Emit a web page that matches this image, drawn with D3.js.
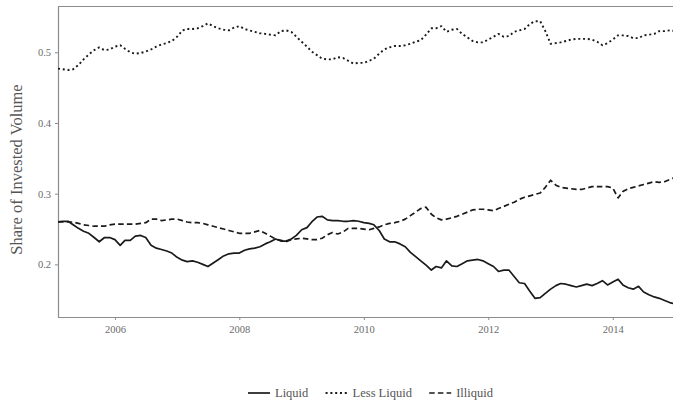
<!DOCTYPE html>
<html>
<head>
<meta charset="utf-8">
<script src="https://cdn.jsdelivr.net/npm/d3@7/dist/d3.min.js"></script>
<style>
  html, body { margin: 0; padding: 0; background: #fff; }
  svg { display: block; }
  text { font-family: "Liberation Serif", "DejaVu Serif", serif; }
</style>
</head>
<body>
<svg id="chart" width="673" height="404"></svg>
<script>
// Monthly observations, Feb 2005 – Jan 2015
const startYear = 2005, startMonth = 1; // Feb 2005 (0-based month)

const liquid = [
  0.260,0.261,0.261,0.256,0.251,0.247,0.244,0.238,0.232,0.238,0.238,
  0.235,0.227,0.234,0.234,0.240,0.241,0.238,0.227,0.223,0.221,0.219,0.216,
  0.210,0.206,0.204,0.205,0.203,0.200,0.197,0.202,0.207,0.212,0.215,0.216,
  0.216,0.220,0.222,0.223,0.225,0.229,0.232,0.236,0.233,0.233,0.236,0.241,
  0.249,0.252,0.260,0.267,0.268,0.263,0.262,0.262,0.261,0.261,0.262,0.261,
  0.259,0.258,0.256,0.248,0.236,0.232,0.232,0.229,0.225,0.217,0.211,0.205,
  0.199,0.192,0.197,0.195,0.205,0.198,0.197,0.201,0.205,0.206,0.207,0.205,
  0.201,0.197,0.190,0.192,0.192,0.183,0.174,0.173,0.162,0.152,0.153,0.159,
  0.165,0.170,0.173,0.172,0.170,0.168,0.170,0.172,0.170,0.173,0.177,0.171,
  0.175,0.179,0.171,0.167,0.165,0.169,0.161,0.157,0.154,0.152,0.149,0.146,
  0.144
];

const lessLiquid = [
  0.477,0.476,0.475,0.476,0.482,0.490,0.497,0.503,0.507,0.503,0.504,
  0.508,0.510,0.505,0.500,0.498,0.499,0.501,0.504,0.508,0.511,0.513,0.516,
  0.522,0.531,0.533,0.533,0.534,0.537,0.541,0.537,0.534,0.532,0.531,0.535,
  0.537,0.533,0.531,0.529,0.527,0.526,0.525,0.524,0.530,0.531,0.529,0.522,
  0.515,0.508,0.501,0.496,0.491,0.490,0.490,0.493,0.492,0.488,0.484,0.485,
  0.485,0.488,0.491,0.498,0.504,0.507,0.509,0.509,0.510,0.512,0.515,0.517,
  0.525,0.534,0.534,0.537,0.529,0.532,0.533,0.526,0.521,0.516,0.514,0.514,
  0.518,0.522,0.526,0.522,0.523,0.529,0.531,0.533,0.540,0.544,0.544,0.530,
  0.512,0.513,0.514,0.516,0.518,0.519,0.519,0.519,0.518,0.515,0.510,0.513,
  0.518,0.524,0.524,0.523,0.520,0.520,0.524,0.525,0.526,0.530,0.530,0.531,
  0.530
];

const illiquid = [
  0.260,0.260,0.260,0.260,0.258,0.256,0.255,0.254,0.254,0.254,0.256,
  0.257,0.257,0.257,0.257,0.257,0.258,0.259,0.264,0.264,0.262,0.263,0.264,
  0.264,0.262,0.260,0.259,0.259,0.258,0.256,0.254,0.252,0.250,0.248,0.246,
  0.244,0.244,0.244,0.246,0.248,0.244,0.240,0.236,0.234,0.232,0.235,0.236,
  0.237,0.236,0.235,0.235,0.237,0.242,0.245,0.243,0.246,0.251,0.251,0.251,
  0.250,0.249,0.251,0.253,0.256,0.258,0.259,0.261,0.264,0.269,0.274,0.279,
  0.281,0.271,0.266,0.263,0.264,0.266,0.268,0.271,0.274,0.277,0.278,0.278,
  0.277,0.276,0.279,0.282,0.285,0.288,0.292,0.295,0.297,0.299,0.301,0.309,
  0.319,0.312,0.309,0.308,0.307,0.306,0.306,0.308,0.310,0.310,0.310,0.310,
  0.308,0.294,0.303,0.307,0.309,0.311,0.313,0.315,0.317,0.316,0.317,0.320,
  0.323
];

const seriesNames = ["Liquid", "Less Liquid", "Illiquid"];
const yTicks = [0.2, 0.3, 0.4, 0.5];
const xTickYears = [2006, 2008, 2010, 2012, 2014];
const yTitle = "Share of Invested Volume";

const dates = liquid.map((_, i) => new Date(startYear, startMonth + i, 1));

const series = [
  { name: seriesNames[0], values: liquid,     dash: null,      width: 1.7 },
  { name: seriesNames[1], values: lessLiquid, dash: "2,2.8",   width: 1.9 },
  { name: seriesNames[2], values: illiquid,   dash: "5.5,3.2", width: 1.7 }
];

const svg = d3.select("#chart");
const panel = { left: 58, right: 675, top: 6, bottom: 317 };

const x = d3.scaleTime()
  .domain([dates[0], dates[dates.length - 1]])
  .range([panel.left, panel.right]);

const y = d3.scaleLinear()
  .domain([0.1256, 0.5655])
  .range([panel.bottom, panel.top]);

const axisColor = "#8c8c8c";
const labelColor = "#6a6a6a";

// clip region for the series
svg.append("defs").append("clipPath").attr("id", "plotClip")
  .append("rect")
  .attr("x", panel.left).attr("y", panel.top)
  .attr("width", panel.right - panel.left).attr("height", panel.bottom - panel.top);

// top border of panel
svg.append("line")
  .attr("x1", panel.left).attr("x2", 673)
  .attr("y1", panel.top + 0.5).attr("y2", panel.top + 0.5)
  .attr("stroke", axisColor).attr("stroke-width", 1.2);

// y axis
const yAxis = d3.axisLeft(y)
  .tickValues(yTicks)
  .tickFormat(d3.format(".1f"))
  .tickSize(3).tickPadding(4);

const gy = svg.append("g")
  .attr("transform", `translate(${panel.left},0)`)
  .call(yAxis);
gy.select(".domain").attr("stroke", axisColor).attr("stroke-width", 1.2)
  .attr("d", `M0.5,${panel.top}V${panel.bottom}`);
gy.selectAll(".tick line").attr("stroke", axisColor);
gy.selectAll(".tick text")
  .attr("fill", labelColor)
  .style("font-size", "10.5px")
  .style("font-family", "'Liberation Serif', serif");

// x axis
const xAxis = d3.axisBottom(x)
  .tickValues(xTickYears.map(yr => new Date(yr, 0, 1)))
  .tickFormat(d3.timeFormat("%Y"))
  .tickSize(3).tickPadding(6);

const gx = svg.append("g")
  .attr("transform", `translate(0,${panel.bottom})`)
  .call(xAxis);
gx.select(".domain").attr("stroke", axisColor).attr("stroke-width", 1.2)
  .attr("d", `M${panel.left},0.5H673`);
gx.selectAll(".tick line").attr("stroke", axisColor);
gx.selectAll(".tick text")
  .attr("fill", labelColor)
  .style("font-size", "10.5px")
  .style("font-family", "'Liberation Serif', serif");

// y axis title
svg.append("text")
  .attr("transform", `translate(22,${(panel.top + panel.bottom) / 2 + 8}) rotate(-90)`)
  .attr("text-anchor", "middle")
  .attr("fill", "#555")
  .style("font-size", "16.5px")
  .text(yTitle);

// series lines
const line = d3.line()
  .x((d, i) => x(dates[i]))
  .y(d => y(d))
  .curve(d3.curveLinear);

const plot = svg.append("g").attr("clip-path", "url(#plotClip)");
series.forEach(s => {
  plot.append("path")
    .datum(s.values)
    .attr("fill", "none")
    .attr("stroke", "#1a1a1a")
    .attr("stroke-width", s.width)
    .attr("stroke-linejoin", "round")
    .attr("stroke-dasharray", s.dash)
    .attr("d", line);
});

// legend
const legend = svg.append("g");
const legendY = 393;
const keyW = 22, keyGap = 5;
const spanStart = 248, spanEnd = 493;
const items = series.map(s => {
  const g = legend.append("g");
  g.append("line")
    .attr("x1", 0).attr("x2", keyW)
    .attr("y1", 0).attr("y2", 0)
    .attr("stroke", "#1a1a1a").attr("stroke-width", s.width)
    .attr("stroke-dasharray", s.dash);
  const t = g.append("text")
    .attr("x", keyW + keyGap).attr("y", 4)
    .attr("fill", "#555")
    .style("font-size", "12.5px")
    .text(s.name);
  return { g, w: keyW + keyGap + t.node().getComputedTextLength() };
});
const totalW = d3.sum(items, d => d.w);
const itemGap = Math.max(5, (spanEnd - spanStart - totalW) / (items.length - 1));
let cx = spanStart;
items.forEach(it => {
  it.g.attr("transform", `translate(${cx},${legendY})`);
  cx += it.w + itemGap;
});
</script>
</body>
</html>
